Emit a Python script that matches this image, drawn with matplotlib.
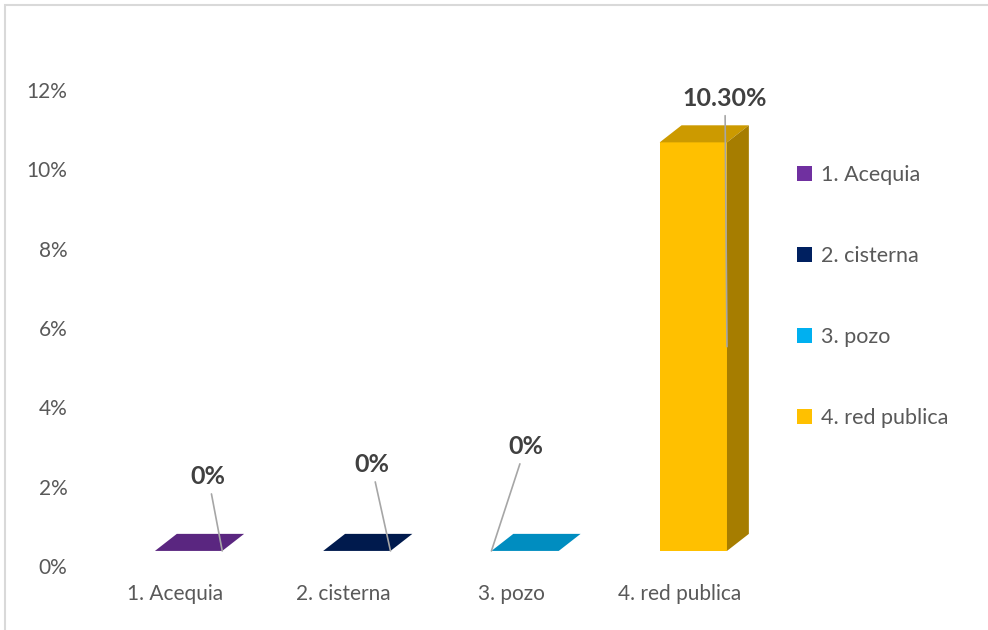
import matplotlib.pyplot as plt
from matplotlib.patches import Polygon, Patch, Rectangle

# data
categories = ["1. Acequia", "2. cisterna", "3. pozo", "4. red publica"]
values = [0.0, 0.0, 0.0, 10.3]
value_labels = ["0%", "0%", "0%", "10.30%"]
yticks = [0, 2, 4, 6, 8, 10, 12]

front_colors = ["#7030A0", "#002060", "#00B0F0", "#FFC000"]
top_colors = ["#5A2680", "#001A4D", "#008DC0", "#CC9A00"]
side_colors = ["#4A1F69", "#00163F", "#00739E", "#A67D00"]

# label offsets (pixels) from leader-line anchor, and anchor side of the bar
label_offsets = [(-14, 74), (-19, 86), (34, 104), (-2, 248)]
anchor_side = ["right", "right", "left", "right"]

plt.rcParams['font.family'] = ['Lato', 'DejaVu Sans']

fig = plt.figure(figsize=(9.88, 6.3), dpi=100)
ax = fig.add_axes([91 / 988, 64 / 630, (764 - 91) / 988, (566 - 90) / 630])

# outer chart border (partly cropped in the reference)
fig.patches.append(Rectangle((5 / 988, -0.1), 1.2, 1 - 5 / 630 + 0.1,
                             transform=fig.transFigure, fill=False,
                             edgecolor="#D9D9D9", linewidth=1.5))

floor = 0.38     # front face base above the axis zero
shift = 0.08     # bar front shift right of the category center
width = 0.4
dx, dy = 0.13, 0.43

xs = list(range(len(categories)))
ax.bar([x + shift for x in xs], values, width=width, bottom=floor,
       color=front_colors, linewidth=0, zorder=3)

for i, x in enumerate(xs):
    x0 = x + shift - width / 2
    x1 = x + shift + width / 2
    top = floor + values[i]
    ax.add_patch(Polygon([(x0, top), (x1, top), (x1 + dx, top + dy), (x0 + dx, top + dy)],
                         closed=True, facecolor=top_colors[i], edgecolor="none", zorder=3))
    if values[i] > 0:
        ax.add_patch(Polygon([(x1, floor), (x1, top), (x1 + dx, top + dy), (x1 + dx, floor + dy)],
                             closed=True, facecolor=side_colors[i], edgecolor="none", zorder=3))
    ax_x = x1 if anchor_side[i] == "right" else x0
    ax_y = floor + values[i] / 2
    ax.annotate(value_labels[i], xy=(ax_x, ax_y), xytext=label_offsets[i],
                textcoords="offset pixels", ha="center", va="center",
                fontsize=18, fontweight="bold", color="#404040",
                arrowprops=dict(arrowstyle="-", color="#A6A6A6", lw=1.2,
                                shrinkA=2, shrinkB=0),
                zorder=5, annotation_clip=False)

ax.set_xlim(-0.5, 3.5)
ax.set_ylim(0, 12)
ax.set_yticks(yticks)
ax.set_yticklabels([f"{t}%" for t in yticks])
ax.set_xticks(xs)
ax.set_xticklabels(categories)
ax.tick_params(axis="y", length=0, pad=17, labelsize=15, labelcolor="#595959")
ax.tick_params(axis="x", length=0, pad=13, labelsize=15, labelcolor="#595959")
for s in ax.spines.values():
    s.set_visible(False)

handles = [Patch(facecolor=c, edgecolor="none") for c in front_colors]
fig.legend(handles, categories, loc="upper left", bbox_to_anchor=(778 / 988, 1 - 146 / 630),
           frameon=False, fontsize=15.5, labelcolor="#595959", labelspacing=2.83,
           handlelength=0.7, handleheight=0.7, handletextpad=0.4)

fig.savefig("out.png", dpi=100)
